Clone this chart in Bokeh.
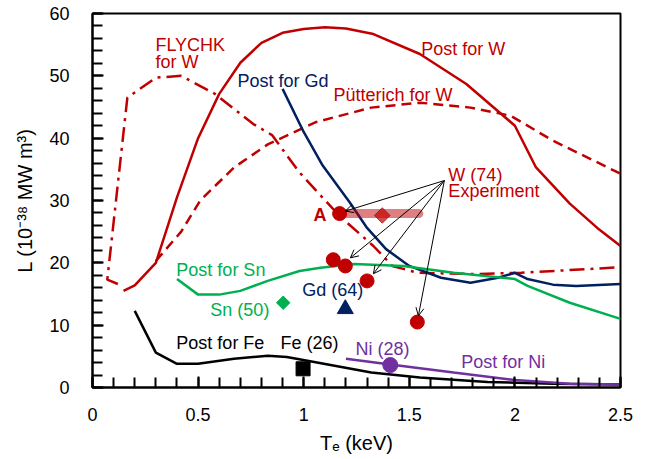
from bokeh.plotting import figure
from bokeh.models import ColumnDataSource, Arrow, OpenHead, FixedTicker, Range1d, NumeralTickFormatter
from bokeh.embed import file_html
from bokeh.resources import INLINE
from bokeh.core.properties import value
import math

# ---------------- data ----------------
post_w_te = [0.147, 0.2, 0.3, 0.4, 0.5, 0.6, 0.7, 0.8, 0.9, 1.0, 1.1, 1.2, 1.33, 1.55, 1.77, 2.0, 2.1, 2.26, 2.39, 2.5]
post_w_L = [15.5, 16.4, 20.0, 30.5, 40.0, 47.1, 52.1, 55.3, 56.9, 57.5, 57.8, 57.6, 56.7, 53.5, 48.7, 42.0, 35.3, 29.5, 25.6, 22.7]

putterich_te = [0.3, 0.42, 0.51, 0.67, 0.83, 1.06, 1.32, 1.55, 1.79, 1.98, 2.18, 2.5]
putterich_L = [20.3, 25.0, 30.0, 35.3, 39.0, 42.6, 44.9, 45.7, 44.9, 43.6, 39.6, 34.3]

flychk_te = [0.12, 0.07, 0.165, 0.3, 0.42, 0.58, 0.76, 0.85, 0.98, 1.17, 1.33, 1.42, 1.54, 1.8, 2.03, 2.5]
flychk_L = [16.6, 17.3, 46.5, 49.7, 50.0, 47.1, 42.3, 40.5, 34.5, 27.5, 22.7, 19.5, 18.4, 18.2, 18.4, 19.3]

post_gd_te = [0.9, 1.0, 1.09, 1.22, 1.30, 1.39, 1.5, 1.65, 1.79, 1.92, 2.0, 2.06, 2.18, 2.29, 2.5]
post_gd_L = [47.9, 41.0, 35.6, 29.6, 25.6, 22.2, 19.5, 17.6, 16.8, 17.6, 18.4, 17.4, 16.5, 16.3, 16.6]

post_sn_te = [0.4, 0.5, 0.6, 0.7, 0.83, 0.98, 1.08, 1.24, 1.47, 1.71, 2.0, 2.06, 2.26, 2.5]
post_sn_L = [17.4, 14.9, 14.9, 15.5, 17.1, 18.7, 19.2, 19.8, 19.5, 18.4, 17.4, 16.3, 13.6, 11.0]

post_fe_te = [0.2, 0.3, 0.4, 0.5, 0.67, 0.83, 0.92, 1.05, 1.32, 1.55, 1.87, 2.18, 2.5]
post_fe_L = [12.3, 5.6, 3.8, 3.8, 4.6, 5.1, 4.9, 4.1, 2.4, 1.6, 0.9, 0.6, 0.5]

post_ni_te = [1.2, 1.41, 1.71, 2.0, 2.26, 2.5]
post_ni_L = [4.6, 3.7, 2.4, 1.2, 0.6, 0.5]

# experiment points
w_exp_te = [1.17, 1.14, 1.197, 1.30, 1.538]
w_exp_L = [27.9, 20.5, 19.5, 17.1, 10.5]
w_range_te = [1.17, 1.545]
w_range_L = [27.9, 27.9]
w_mid_te = [1.372]
w_mid_L = [27.6]
sn_exp_te = [0.903]
sn_exp_L = [13.6]
gd_exp_te = [1.197]
gd_exp_L = [12.6]
fe_exp_te = [0.997]
fe_exp_L = [3.0]
ni_exp_te = [1.41]
ni_exp_L = [3.6]

# arrows from the "W (74) Experiment" label
arrow_from_te = [1.666, 1.666, 1.666, 1.666]
arrow_from_L = [33.2, 33.2, 33.2, 33.2]
arrow_tip_te = [1.197, 1.221, 1.33, 1.543]
arrow_tip_L = [28.3, 20.8, 18.25, 11.5]

x_ticks = [0, 0.5, 1, 1.5, 2, 2.5]
x_minor_ticks = [i / 10 for i in range(26)]
y_ticks = [0, 10, 20, 30, 40, 50, 60]
y_minor_ticks = list(range(0, 61, 2))

RED = "#C00000"
NAVY = "#002060"
GREEN = "#00B050"
PURPLE = "#7030A0"
FONT = "Liberation Sans"

p = figure(width=647, height=459, x_range=Range1d(0, 2.5), y_range=Range1d(0, 60),
           output_backend="svg", toolbar_location=None,
           min_border_left=92, min_border_right=27, min_border_top=13, min_border_bottom=72)
p.grid.visible = False
p.background_fill_color = "white"
p.border_fill_color = "white"
p.outline_line_color = "black"
p.outline_line_width = 2

p.xaxis.ticker = FixedTicker(ticks=x_ticks, minor_ticks=x_minor_ticks)
p.yaxis.ticker = FixedTicker(ticks=y_ticks, minor_ticks=y_minor_ticks)
p.xaxis.formatter = NumeralTickFormatter(format="0.[0]")
for ax in (p.xaxis[0], p.yaxis[0]):
    ax.axis_line_width = 2
    ax.axis_line_color = "black"
    ax.major_tick_in = 11
    ax.major_tick_out = 0
    ax.minor_tick_in = 10
    ax.minor_tick_out = 0
    ax.major_tick_line_width = 2
    ax.minor_tick_line_width = 2
    ax.major_tick_line_color = "black"
    ax.minor_tick_line_color = "black"
    ax.major_label_text_font = FONT
    ax.major_label_text_font_size = "18px"
    ax.major_label_text_color = "black"
    ax.axis_label_text_font = FONT
    ax.axis_label_text_font_size = "20px"
    ax.axis_label_text_font_style = "normal"
    ax.axis_label_text_color = "black"
p.xaxis.major_label_standoff = 20
p.yaxis.major_label_standoff = 23
p.xaxis.axis_label = "Tₑ (keV)"
p.yaxis.axis_label = "L (10⁻³⁸ MW m³)"
p.xaxis.axis_label_standoff = 8
p.yaxis.axis_label_standoff = 10

LW = 2.5
p.line(post_w_te, post_w_L, line_color=RED, line_width=LW)
p.line(putterich_te, putterich_L, line_color=RED, line_width=LW, line_dash="10 6")
p.line(flychk_te, flychk_L, line_color=RED, line_width=LW, line_dash="15 6 3 6")
p.line(post_gd_te, post_gd_L, line_color=NAVY, line_width=LW)
p.line(post_sn_te, post_sn_L, line_color=GREEN, line_width=LW)
p.line(post_fe_te, post_fe_L, line_color="black", line_width=LW)
p.line(post_ni_te, post_ni_L, line_color=PURPLE, line_width=LW)

# experimental range bar for W
p.line(w_range_te, w_range_L, line_color=RED, line_alpha=0.5, line_width=9, line_cap="round")
p.scatter(w_mid_te, w_mid_L, marker="square", size=11, angle=math.pi / 4,
          fill_color=RED, fill_alpha=0.7, line_color="#A00000", line_alpha=0.7)
p.scatter(w_exp_te, w_exp_L, marker="circle", size=14, fill_color=RED, line_color=RED)
p.scatter(sn_exp_te, sn_exp_L, marker="square", size=9.5, angle=math.pi / 4, fill_color=GREEN, line_color=GREEN)
p.scatter(gd_exp_te, gd_exp_L, marker="triangle", size=16, fill_color=NAVY, line_color=NAVY)
p.scatter(fe_exp_te, fe_exp_L, marker="square", size=14, fill_color="black", line_color="black")
p.scatter(ni_exp_te, ni_exp_L, marker="circle", size=15, fill_color=PURPLE, line_color=PURPLE)

arrow_src = ColumnDataSource(dict(xs=arrow_from_te, ys=arrow_from_L, xe=arrow_tip_te, ye=arrow_tip_L))
p.add_layout(Arrow(source=arrow_src, x_start="xs", y_start="ys", x_end="xe", y_end="ye",
                   line_color="black", line_width=1,
                   end=OpenHead(size=8, line_color="black", line_width=1)))

labels = [
    ("FLYCHK", 0.298, 54.9, RED, "normal"),
    ("for W", 0.298, 52.2, RED, "normal"),
    ("Post for W", 1.557, 54.3, RED, "normal"),
    ("Post for Gd", 0.686, 49.1, NAVY, "normal"),
    ("Pütterich for W", 1.141, 47.0, RED, "normal"),
    ("W (74)", 1.685, 34.1, RED, "normal"),
    ("Experiment", 1.685, 31.6, RED, "normal"),
    ("A", 1.046, 27.7, RED, "bold"),
    ("Post for Sn", 0.397, 18.9, GREEN, "normal"),
    ("Sn (50)", 0.558, 12.4, GREEN, "normal"),
    ("Gd (64)", 0.993, 15.6, NAVY, "normal"),
    ("Post for Fe", 0.397, 7.2, "black", "normal"),
    ("Fe (26)", 0.89, 7.2, "black", "normal"),
    ("Ni (28)", 1.245, 6.1, PURPLE, "normal"),
    ("Post for Ni", 1.746, 4.1, PURPLE, "normal"),
]
for t, x, y, c, st in labels:
    p.text(x=[x], y=[y], text=[t], text_color=c, text_font=value(FONT), text_font_size="18px",
           text_font_style=st, text_align="left", text_baseline="middle")

open("out.html", "w").write(file_html(p, INLINE))
